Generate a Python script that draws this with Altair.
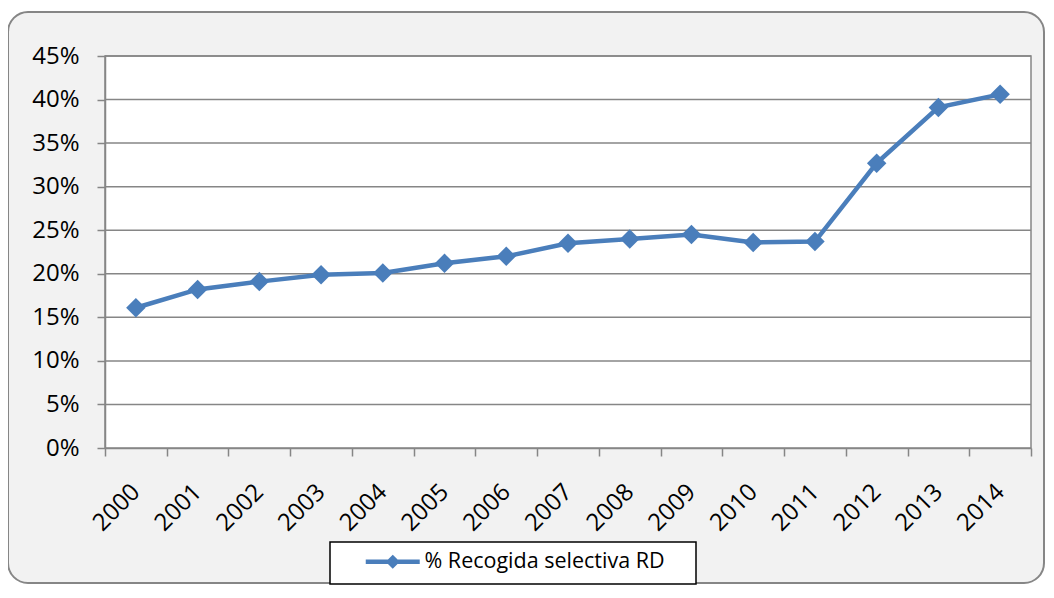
import altair as alt
import pandas as pd

# ---- data ----
years = ["2000", "2001", "2002", "2003", "2004", "2005", "2006", "2007",
         "2008", "2009", "2010", "2011", "2012", "2013", "2014"]
pct_values = [16.1, 18.2, 19.1, 19.9, 20.1, 21.2, 22.0, 23.5,
              24.0, 24.5, 23.6, 23.7, 32.7, 39.1, 40.6]
series_name = "% Recogida selectiva RD"
y_tick_values = [0.0, 0.05, 0.10, 0.15, 0.20, 0.25, 0.30, 0.35, 0.40, 0.45]
grid_values = [0.05, 0.10, 0.15, 0.20, 0.25, 0.30, 0.35, 0.40, 0.45]

df = pd.DataFrame({
    "year": years,
    "value": [v / 100 for v in pct_values],
    "serie": [series_name] * len(years),
})
grid_df = pd.DataFrame({"tick": grid_values})
one = pd.DataFrame({"a": [0]})

W, H = 926, 392
BLUE = "#4a7ebb"
GRAY = "#868686"
FONT = "Open Sans"
FS = 24
LEG_FS = 21.5

x_scale = alt.Scale(type="band", domain=years, paddingInner=0, paddingOuter=0)
y_scale = alt.Scale(domain=[0, 0.45], nice=False)

x_axis = alt.Axis(title=None, labelAngle=-45, labelAlign="right", labelBaseline="middle",
                  tickBand="extent", tickSize=8, labelPadding=32, grid=False,
                  domainColor=GRAY, tickColor=GRAY, domainWidth=1.5, tickWidth=1.5,
                  labelFont=FONT, labelFontSize=FS, labelColor="black", zindex=1)
y_axis = alt.Axis(title=None, values=y_tick_values, format=".0%", tickSize=8,
                  labelPadding=18, grid=False, domainColor=GRAY, tickColor=GRAY,
                  domainWidth=1.5, tickWidth=1.5, labelFont=FONT, labelFontSize=FS,
                  labelColor="black", zindex=1)

# outer rounded chart frame (decoration)
frame = alt.Chart(one).mark_rect(
    fill="#f2f2f2", stroke=GRAY, strokeWidth=2, cornerRadius=20
).encode(x=alt.value(-97), x2=alt.value(939), y=alt.value(-44), y2=alt.value(527))

# white plot area with gray border
plot_bg = alt.Chart(one).mark_rect(
    fill="white", stroke=GRAY, strokeWidth=1.5
).encode(x=alt.value(0), x2=alt.value(W), y=alt.value(0), y2=alt.value(H))

grid = alt.Chart(grid_df).mark_rule(color=GRAY, strokeWidth=1.5).encode(
    y=alt.Y("tick:Q", scale=y_scale, axis=y_axis)
)

line = alt.Chart(df).mark_line(strokeWidth=4.5).encode(
    x=alt.X("year:N", scale=x_scale, axis=x_axis, sort=years),
    y=alt.Y("value:Q", scale=y_scale, axis=y_axis),
    color=alt.Color("serie:N", scale=alt.Scale(range=[BLUE]),
                    legend=alt.Legend(
                        title=None, orient="none", legendX=225, legendY=486,
                        symbolType="M-3.857,0L3.857,0M0,-0.55L0.55,0L0,0.55L-0.55,0Z",
                        symbolSize=196, symbolStrokeWidth=4.5,
                        symbolFillColor=BLUE, symbolStrokeColor=BLUE,
                        symbolOffset=43, labelOffset=21, padding=9,
                        labelFont=FONT, labelFontSize=LEG_FS, labelColor="black",
                        labelLimit=500,
                        labelExpr="datum.label + '\u00a0\u00a0\u00a0\u00a0\u200b'",
                        strokeColor="black", fillColor="white",
                    )),
)

points = alt.Chart(df).mark_point(shape="diamond", filled=True, size=380,
                                  color=BLUE, opacity=1).encode(
    x=alt.X("year:N", scale=x_scale, sort=years, axis=x_axis),
    y=alt.Y("value:Q", scale=y_scale, axis=y_axis),
)

chart = alt.layer(frame, plot_bg, grid, line, points).properties(
    width=W, height=H,
    autosize=alt.AutoSizeParams(type="none"),
    padding={"left": 97, "top": 48, "right": 15, "bottom": 137},
    background="white",
).configure_view(stroke=None).configure_legend(strokeWidth=1.5)

chart.save("out.html", embed_options={"renderer": "svg", "actions": False})
